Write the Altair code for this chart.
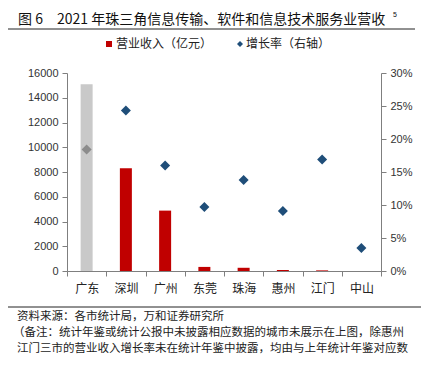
import altair as alt
import pandas as pd

cities = ["广东", "深圳", "广州", "东莞", "珠海", "惠州", "江门", "中山"]
revenue = [15100, 8300, 4880, 330, 260, 80, 50, 0]
growth = [0.184, 0.243, 0.160, 0.097, 0.138, 0.091, 0.169, 0.035]

title_a = "图 6"
title_b = "2021 年珠三角信息传输、软件和信息技术服务业营收"
title_sup = "5"
legend_bar = "营业收入（亿元）"
legend_pt = "增长率（右轴）"
foot1 = "资料来源：各市统计局，万和证券研究所"
foot2 = "（备注：统计年鉴或统计公报中未披露相应数据的城市未展示在上图，除惠州"
foot3 = "江门三市的营业收入增长率未在统计年鉴中披露，均由与上年统计年鉴对应数"

df = pd.DataFrame({"城市": cities, "营业收入": revenue, "增长率": growth})

CJK = "Noto Sans CJK SC"
NUM = "Liberation Sans"
AX = "#7f7f7f"

xenc = alt.X("城市:N", sort=cities, title=None,
             scale=alt.Scale(paddingInner=0, paddingOuter=0),
             axis=alt.Axis(labelAngle=0, labelFont=CJK, labelFontSize=12, labelColor="#222",
                           tickBand="extent", tickSize=5, tickColor=AX, domainColor=AX,
                           labelPadding=7))

bars = alt.Chart(df).mark_bar(width=12).encode(
    x=xenc,
    y=alt.Y("营业收入:Q", title=None,
            scale=alt.Scale(domain=[0, 16000]),
            axis=alt.Axis(values=list(range(0, 16001, 2000)), format="d", grid=False,
                          labelFont=NUM, labelFontSize=11, labelColor="#333", tickSize=5,
                          tickColor=AX, domainColor=AX, labelPadding=4)),
    color=alt.condition(alt.datum["城市"] == "广东", alt.value("#c9c9c9"), alt.value("#c00000")),
)

points = alt.Chart(df).mark_point(shape="diamond", filled=True, size=100, opacity=1).encode(
    x=alt.X("城市:N", sort=cities),
    y=alt.Y("增长率:Q", title=None,
            scale=alt.Scale(domain=[0, 0.3]),
            axis=alt.Axis(orient="right", values=[0, 0.05, 0.1, 0.15, 0.2, 0.25, 0.3],
                          format=".0%", grid=False, labelFont=NUM, labelFontSize=11,
                          labelColor="#333", tickSize=5, tickColor=AX, domainColor=AX,
                          labelPadding=4)),
    color=alt.condition(alt.datum["城市"] == "广东", alt.value("#8c8c8c"), alt.value("#1f4e79")),
)


def txt(s, x, y, size=12, font=CJK, color="#222"):
    return alt.Chart(pd.DataFrame({"t": [s]})).mark_text(
        align="left", baseline="middle", font=font, fontSize=size, color=color
    ).encode(x=alt.value(x), y=alt.value(y), text="t:N")


def rule(x1, x2, y):
    return alt.Chart(pd.DataFrame({"t": [0]})).mark_rule(color="#222", strokeWidth=1).encode(
        x=alt.value(x1), x2=alt.value(x2), y=alt.value(y))


def sym(shape, color, x, y):
    return alt.Chart(pd.DataFrame({"t": [0]})).mark_point(
        shape=shape, filled=True, size=36, color=color, opacity=1
    ).encode(x=alt.value(x), y=alt.value(y))


deco = [
    txt(title_a, -49, -53, 14, CJK, "#111"),
    txt(title_b, -10, -53, 14, CJK, "#111"),
    txt(title_sup, 326, -58, 7, NUM, "#111"),
    rule(-59, 348, -44),
    sym("square", "#c00000", 42, -29),
    txt(legend_bar, 49, -29, 12),
    sym("diamond", "#1f4e79", 173, -29),
    txt(legend_pt, 179, -29, 12),
    rule(-59, 354, 234),
    txt(foot1, -50, 244, 11.5),
    txt(foot2, -54, 260, 11.5),
    txt(foot3, -50, 276, 11.5),
]

chart = alt.layer(bars, points, *deco).resolve_scale(y="independent").properties(
    width=314, height=198,
    padding={"left": 59, "top": 65, "right": 40, "bottom": 86},
    autosize=alt.AutoSizeParams(type="none"),
).configure_view(stroke=None)

chart.save("out.html", embed_options={"renderer": "svg", "actions": False})
